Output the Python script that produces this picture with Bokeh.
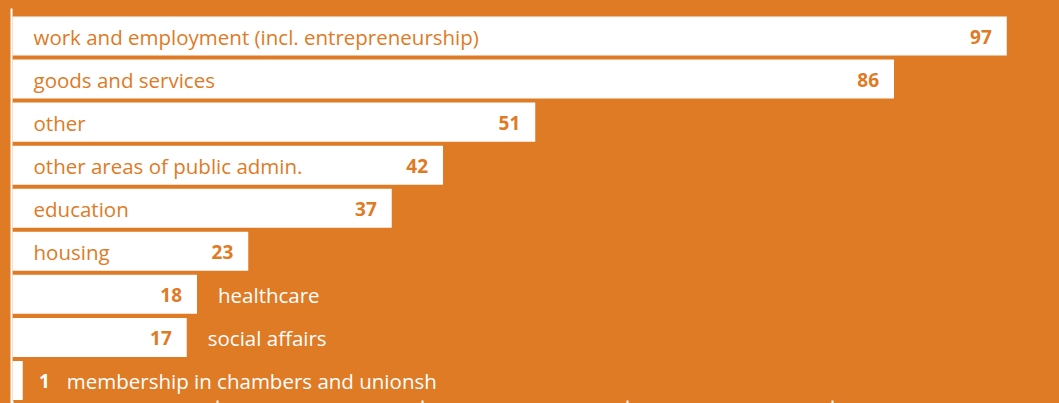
from bokeh.plotting import figure
from bokeh.models import Range1d, ColumnDataSource, FixedTicker
from bokeh.embed import file_html
from bokeh.resources import INLINE
from bokeh.core.properties import value

# ---- data ----
categories = [
    "work and employment (incl. entrepreneurship)",
    "goods and services",
    "other",
    "other areas of public admin.",
    "education",
    "housing",
    "healthcare",
    "social affairs",
    "membership in chambers and unionsh",
]
values = [97, 86, 51, 42, 37, 23, 18, 17, 1]
x_ticks = [0, 20, 40, 60, 80]

# ---- styling ----
ORANGE = "#DF7A25"
WHITE = "#FFFFFF"
PX_PER_UNIT = 10.25
W, H = 1059, 403
LEFT = 11
TOP = 8

x0 = -1.0 / PX_PER_UNIT
x1 = x0 + (W - LEFT) / PX_PER_UNIT

ys = list(range(len(values)))

p = figure(
    width=W, height=H,
    x_range=Range1d(x0, x1),
    y_range=Range1d(8.535, -0.639),
    output_backend="svg", toolbar_location=None,
    min_border_left=LEFT, min_border_right=0,
    min_border_top=TOP, min_border_bottom=0,
)
p.background_fill_color = ORANGE
p.border_fill_color = ORANGE
p.outline_line_color = None
p.grid.visible = False

# y axis: just the white vertical line
p.yaxis.ticker = FixedTicker(ticks=[])
p.yaxis.axis_line_color = WHITE
p.yaxis.axis_line_width = 2
p.yaxis.major_tick_line_color = None
p.yaxis.minor_tick_line_color = None
p.yaxis.major_label_standoff = 0
p.yaxis.major_tick_out = 0
p.yaxis.major_tick_in = 0

# x axis: only short inward ticks visible at the bottom
p.xaxis.ticker = FixedTicker(ticks=x_ticks)
p.xaxis.major_label_overrides = {t: "" for t in x_ticks}
p.xaxis.axis_line_color = None
p.xaxis.major_tick_line_color = WHITE
p.xaxis.major_tick_line_width = 2
p.xaxis.major_tick_in = 3
p.xaxis.major_tick_out = 0
p.xaxis.minor_tick_line_color = None
p.xaxis.major_label_standoff = 0

bars = ColumnDataSource(dict(y=ys, v=values))
p.hbar(y="y", left=0, right="v", height=0.906, source=bars,
       fill_color=WHITE, line_color=None)

# labels: category inside the bar when long enough, otherwise after it
cat_x, cat_c, val_x, val_c = [], [], [], []
for v in values:
    inside = v >= 20
    tiny = v < 5
    if inside:
        cat_x.append(21 / PX_PER_UNIT)
        cat_c.append(ORANGE)
    elif tiny:
        cat_x.append(v + 44 / PX_PER_UNIT)
        cat_c.append(WHITE)
    else:
        cat_x.append(v + 21 / PX_PER_UNIT)
        cat_c.append(WHITE)
    if tiny:
        val_x.append(v + 27 / PX_PER_UNIT)
        val_c.append(WHITE)
    else:
        val_x.append(v - 15 / PX_PER_UNIT)
        val_c.append(ORANGE)

labels = ColumnDataSource(dict(
    y=ys, cat=categories, cx=cat_x, cc=cat_c,
    val=[str(v) for v in values], vx=val_x, vc=val_c,
))

p.text(x="cx", y="y", text="cat", text_color="cc", source=labels,
       text_font=value("Open Sans"), text_font_size=value("20.5px"),
       text_align="left", text_baseline="middle", y_offset=1)
p.text(x="vx", y="y", text="val", text_color="vc", source=labels,
       text_font=value("Open Sans"), text_font_size=value("19px"),
       text_font_style="bold",
       text_align="right", text_baseline="middle", y_offset=1)

html = file_html(p, INLINE)
html = html.replace(
    "</head>",
    "<style>html,body{background:%s;}</style></head>" % ORANGE, 1)
open("out.html", "w").write(html)
